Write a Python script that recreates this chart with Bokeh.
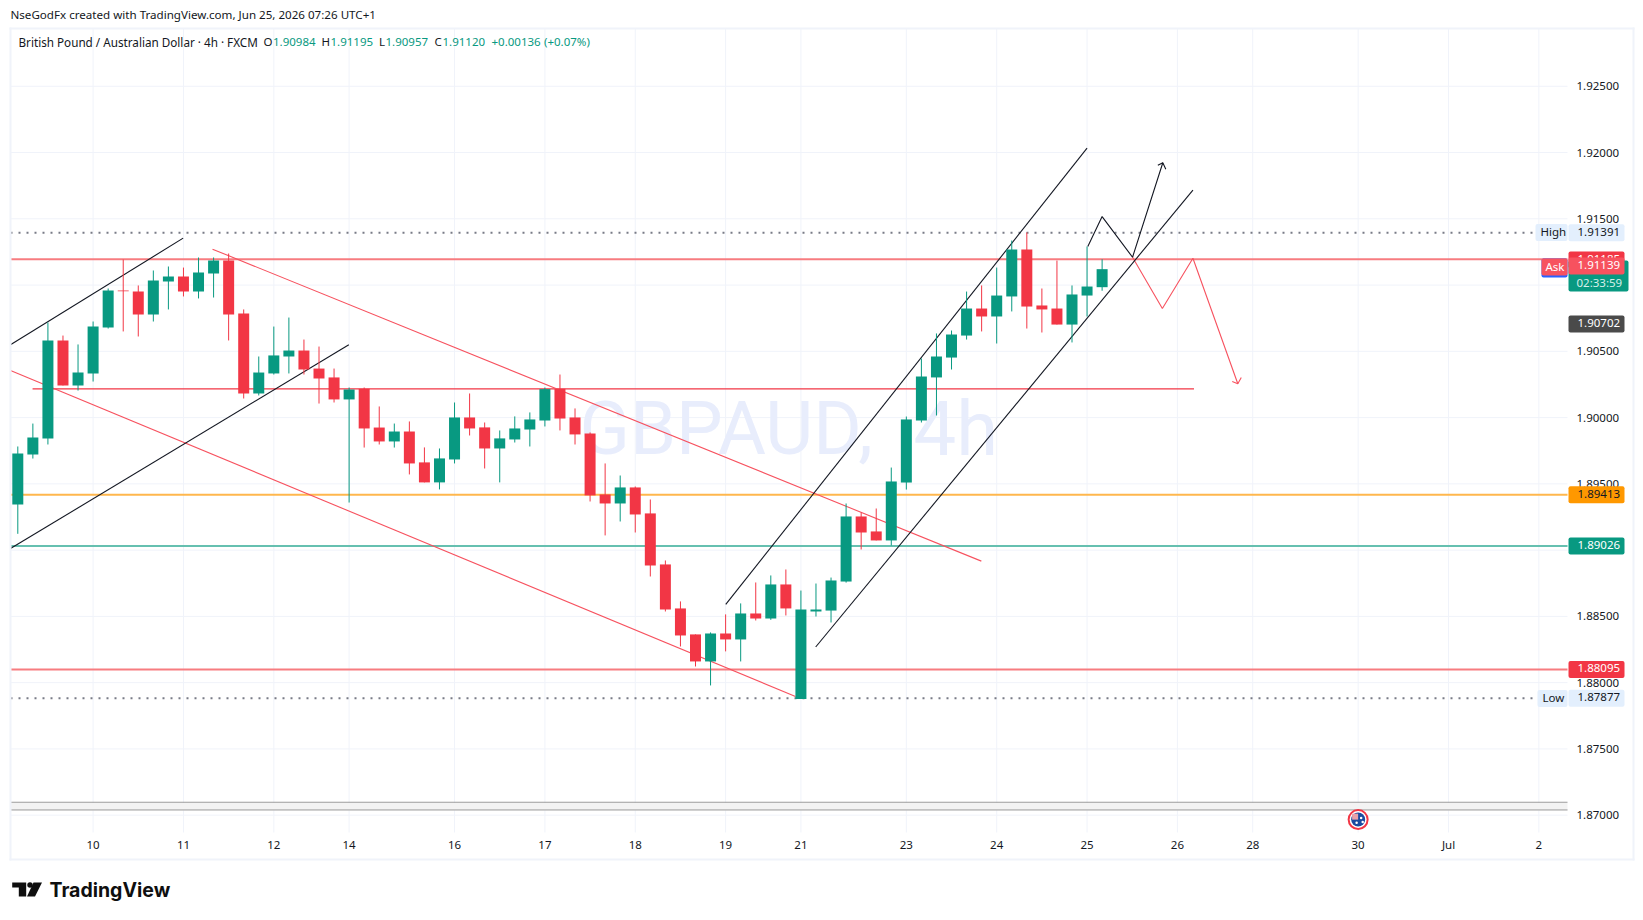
from bokeh.plotting import figure
from bokeh.embed import file_html
from bokeh.resources import INLINE
from bokeh.core.properties import value
from bokeh.models import LinearAxis, FixedTicker, ColumnDataSource, Range1d

UP = "#089981"
DOWN = "#f23645"
INK = "#131722"
FONT = "Noto Sans"
GRID = "#f0f3fa"

opens = [1.89344,1.89722,1.89842,1.90582,1.90242,1.90333,1.90680,1.90959,1.90951,1.90778,1.91027,1.91065,1.90951,1.91087,1.91185,1.90785,1.90182,1.90333,1.90461,1.90506,1.90370,1.90303,1.90137,1.90217,1.89925,1.89820,
1.89895,1.89662,1.89511,1.89684,1.90001,1.89926,1.89767,1.89835,1.89910,1.89978,1.90217,1.90001,1.89880,1.89420,1.89352,1.89473,1.89277,1.88892,1.88560,1.88364,1.88160,1.88371,1.88326,1.88522,1.88484,1.88741,
1.87877,1.88537,1.88544,1.88763,1.89254,1.89141,1.89073,1.89510,1.89978,1.90303,1.90453,1.90619,1.90823,1.90763,1.90914,1.91268,1.90846,1.90823,1.90702,1.90921,1.90984]
highs = [1.89782,1.89955,1.90718,1.90619,1.90552,1.90725,1.90974,1.91193,1.90997,1.91110,1.91140,1.91132,1.91208,1.91208,1.91238,1.90816,1.90461,1.90687,1.90755,1.90589,1.90536,1.90370,1.90227,1.90227,1.90084,1.89955,
1.89971,1.89775,1.89767,1.90114,1.90182,1.89963,1.89903,1.90009,1.90039,1.90227,1.90325,1.90069,1.89888,1.89654,1.89563,1.89480,1.89382,1.88922,1.88613,1.88364,1.88379,1.88515,1.88598,1.88756,1.88809,1.88854,
1.88695,1.88748,1.88793,1.89352,1.89284,1.89314,1.89623,1.90008,1.90446,1.90635,1.90657,1.90951,1.90997,1.91132,1.91336,1.91397,1.90974,1.91185,1.90997,1.91291,1.91195]
lows = [1.89123,1.89691,1.89797,1.90242,1.90204,1.90272,1.90672,1.90650,1.90612,1.90725,1.90816,1.90914,1.90899,1.90906,1.90582,1.90144,1.90167,1.90325,1.90333,1.90325,1.90106,1.90114,1.89359,1.89774,1.89797,1.89774,
1.89571,1.89511,1.89458,1.89654,1.89865,1.89616,1.89511,1.89812,1.89782,1.89933,1.89903,1.89797,1.89367,1.89111,1.89216,1.89133,1.88801,1.88537,1.88273,1.88122,1.87979,1.88236,1.88160,1.88469,1.88474,1.88507,
1.87877,1.88499,1.88454,1.88755,1.89005,1.89073,1.89035,1.89457,1.89963,1.90016,1.90363,1.90589,1.90650,1.90559,1.90801,1.90672,1.90642,1.90702,1.90567,1.90763,1.90957]
closes = [1.89729,1.89850,1.90582,1.90242,1.90340,1.90687,1.90959,1.90954,1.90778,1.91034,1.91065,1.90951,1.91095,1.91185,1.90778,1.90182,1.90340,1.90469,1.90506,1.90363,1.90295,1.90137,1.90212,1.89918,1.89820,1.89895,
1.89654,1.89511,1.89692,1.90001,1.89918,1.89767,1.89843,1.89918,1.89986,1.90215,1.89993,1.89873,1.89413,1.89352,1.89473,1.89269,1.88884,1.88552,1.88356,1.88160,1.88371,1.88326,1.88522,1.88484,1.88741,1.88560,
1.88552,1.88552,1.88771,1.89254,1.89133,1.89073,1.89518,1.89986,1.90310,1.90461,1.90627,1.90823,1.90763,1.90921,1.91268,1.90838,1.90816,1.90702,1.90929,1.90989,1.91120]

price_ticks = [1.87,1.875,1.88,1.885,1.89,1.895,1.90,1.905,1.91,1.915,1.92,1.925]
day_ticks = [5,11,17,22,29,35,41,47,52,59,65,71,77,82,89,95,101]
day_labels = ["10","11","12","14","16","17","18","19","21","23","24","25","26","28","30","Jul","2"]

high_price = 1.91391
low_price = 1.87877
red_top_level = 1.91190
red_mid_level = 1.90217
orange_level = 1.89413
teal_level = 1.89026
red_low_level = 1.88095
band_top = 1.87093
band_bottom = 1.87035
prev_close = 1.91185
ask_price = 1.91139
alert_price = 1.90702

black_lines = [
    ([-0.485, 10.98], [1.90549, 1.91354]),
    ([-0.485, 21.98], [1.89012, 1.90549]),
    ([47.01, 71.0], [1.88590, 1.92033]),
    ([52.98, 78.03], [1.88269, 1.91717]),
    ([71.05, 72.0, 74.02, 76.03], [1.91291, 1.91517, 1.91210, 1.91923]),
    ([75.70, 76.03, 76.23], [1.91904, 1.91923, 1.91874]),
]
red_lines = [
    ([12.93, 63.98], [1.91271, 1.88917]),
    ([-0.485, 51.64], [1.90355, 1.87896]),
    ([74.02, 76.0, 78.03, 81.01], [1.91210, 1.90823, 1.91202, 1.90255]),
    ([80.64, 81.01, 81.24], [1.90272, 1.90255, 1.90302]),
]

# pixel geometry of the reference: the plot frame fills the whole canvas
FIG_W, FIG_H = 1640, 912
PANE_L, PANE_R, PANE_T, PANE_B = 10, 1567, 28, 832
PX_PER_BAR = 15.06
PX_PER_UNIT = 13253.0
LEVEL_SHIFT = 0.6 / PX_PER_UNIT


def X(px):
    return (px - 17.3) / PX_PER_BAR


def Y(py):
    return 1.915 + (218.3 - py) / PX_PER_UNIT


p = figure(width=FIG_W, height=FIG_H, output_backend="svg", toolbar_location=None,
           x_range=Range1d(X(0), X(FIG_W)), y_range=Range1d(Y(FIG_H), Y(0)),
           x_axis_location=None, y_axis_location=None,
           min_border=0, min_border_left=0, min_border_right=0, min_border_top=0, min_border_bottom=0,
           background_fill_color="white", border_fill_color="white", outline_line_color=None)
p.grid.visible = False

yaxis = LinearAxis(fixed_location=X(PANE_R), ticker=FixedTicker(ticks=price_ticks),
                   major_label_overrides={t: f"{t:.5f}" for t in price_ticks})
xaxis = LinearAxis(fixed_location=Y(PANE_B), ticker=FixedTicker(ticks=day_ticks),
                   major_label_overrides=dict(zip(day_ticks, day_labels)))
for ax in (xaxis, yaxis):
    ax.axis_line_color = None
    ax.major_tick_line_color = None
    ax.minor_tick_line_color = None
    ax.major_label_text_color = INK
    ax.major_label_text_font = FONT
    ax.major_label_text_font_size = "11.5px"
    ax.level = "underlay"
yaxis.major_label_standoff = 3
xaxis.major_label_standoff = -2
p.add_layout(yaxis, "right")
p.add_layout(xaxis, "below")


def text(px, py, s, color=INK, size=11.5, font=FONT, style="normal", baseline="middle"):
    p.text(x=[X(px)], y=[Y(py - 1)], text=[s], text_color=color, text_font=value(font),
           text_font_size=f"{size}px", text_align="left", text_baseline=baseline, text_font_style=style)


def box(l, r, t, b, color, radius=0):
    p.quad(left=[X(l)], right=[X(r)], top=[Y(t)], bottom=[Y(b)], fill_color=color, line_color=None, border_radius=radius)


def hline(price, color, width, x_end=PANE_R, dash="solid"):
    y = price + LEVEL_SHIFT
    p.line([X(PANE_L), X(x_end)], [y, y], line_color=color, line_width=width, line_dash=dash)


# grid
p.segment(x0=[X(PANE_L)] * len(price_ticks), x1=[X(PANE_R)] * len(price_ticks), y0=price_ticks, y1=price_ticks,
          line_color=GRID, line_width=1)
p.segment(x0=day_ticks, x1=day_ticks, y0=[Y(PANE_T)] * len(day_ticks), y1=[Y(PANE_B)] * len(day_ticks),
          line_color=GRID, line_width=1)

# watermark
text(579, 429, "GBPAUD,", color="#e8edfc", size=74, font="Roboto")
text(913, 429, "4h", color="#e8edfc", size=76, font="Roboto")

# band and level lines
p.quad(left=[X(PANE_L)], right=[X(PANE_R)], top=[band_top], bottom=[band_bottom], fill_color="#f3f3f3", line_color=None)
hline(band_top, "#9b9b9b", 1)
hline(band_bottom, "#9b9b9b", 1)
hline(red_top_level, "#f77c80", 2)
hline(orange_level, "#ffb74d", 2)
hline(teal_level, "#66c0b0", 2)
hline(red_low_level, "#f77c80", 2)
p.line([0.98, 78.1], [red_mid_level, red_mid_level], line_color=DOWN, line_width=1.1)
hline(high_price, "#787b86", 2, x_end=1533, dash="2 6")
hline(low_price, "#787b86", 2, x_end=1532, dash="2 6")

for xs, ys in red_lines:
    p.line(xs, ys, line_color="#f7525f", line_width=1.1)
for xs, ys in black_lines:
    p.line(xs, ys, line_color="#131722", line_width=1.1)

# candles
idx = list(range(len(opens)))
colors = [UP if c >= o else DOWN for o, c in zip(opens, closes)]
src = ColumnDataSource(dict(x=idx, o=opens, h=highs, l=lows, c=closes, color=colors))
p.segment("x", "h", "x", "l", source=src, line_color="color", line_width=1)
p.vbar("x", 0.73, "o", "c", source=src, fill_color="color", line_color=None)

# economic event marker
flag_x, flag_y = 89, 1.86967
p.scatter([flag_x], [flag_y], size=19, fill_color="white", line_color=DOWN, line_width=2)
p.scatter([flag_x], [flag_y], size=14, fill_color="#1a4aa0", line_color=None)
p.scatter([flag_x - 0.2], [flag_y + 0.00022], size=6, marker="square", fill_color="#e9a0a8", line_color=None)
p.scatter([flag_x - 0.1, flag_x + 0.2, flag_x + 0.3], [flag_y - 0.00025, flag_y + 0.00012, flag_y - 0.00018],
          size=2.5, fill_color="white", line_color=None)

# outer frame
for l, r, t, b in [(9, 11, PANE_T - 1, 860), (1632, 1634, PANE_T - 1, 860),
                   (9, 1634, PANE_T - 1, PANE_T + 1), (9, 1634, 858, 860)]:
    box(l, r, t, b, GRID)

# header and legend
text(10, 15, "NseGodFx created with TradingView.com, Jun 25, 2026 07:26 UTC+1", size=11.6)
text(18, 42, "British Pound / Australian Dollar · 4h · FXCM", size=11.7)
for px, s, c in [(263, "O", INK), (272.5, "1.90984", UP), (321, "H", INK), (330, "1.91195", UP),
                 (378.5, "L", INK), (385, "1.90957", UP), (434, "C", INK), (442, "1.91120", UP),
                 (491, "+0.00136", UP), (543.5, "(+0.07%)", UP)]:
    text(px, 42, s, color=c)

# price tags
TL, TR = 1568, 1624


def tag(price, color, txt="white", right=TR):
    py = 218.3 + (1.915 - price) * PX_PER_UNIT - 0.6
    box(TL, right, py - 8.5, py + 8.5, color, radius=2)
    text(1577, py, f"{price:.5f}", color=txt)


box(1535, 1567, 223.5, 240.5, "#e3effd", radius=2)
text(1540, 232, "High")
tag(high_price, "#e3effd", INK)

tag(prev_close, DOWN)
box(TL, 1628, 260, 291, UP, radius=2)
text(1576, 283, "02:33:59", color="#d5efe9")
box(1541, 1567, 258, 277, "#2962ff", radius=2)
box(1541, 1567, 258, 275, "#f7525f", radius=2)
text(1545, 266.5, "Ask", color="white")
tag(ask_price, "#f7525f")

tag(alert_price, "#4a4a4a")
tag(orange_level, "#ff9800", INK)
tag(teal_level, UP)
tag(red_low_level, DOWN)
box(1537, 1567, 689.5, 706.5, "#e3effd", radius=2)
text(1542, 698, "Low")
tag(low_price, "#e3effd", INK)

# TradingView logo
LOGO = "#0f0f0f"
p.patch([X(v) for v in (11.7, 25.7, 25.7, 18.3, 18.3, 11.7)], [Y(v) for v in (882, 882, 896, 896, 887, 887)],
        fill_color=LOGO, line_color=None)
p.patch([X(v) for v in (33, 41.5, 34.5, 26.5)], [Y(v) for v in (882, 882, 896, 896)], fill_color=LOGO, line_color=None)
p.scatter([X(29.5)], [Y(884.5)], size=5.5, fill_color=LOGO, line_color=None)
text(49, 890, "TradingView", color=LOGO, size=19.5, font="Inter", style="bold")

open("out.html", "w").write(file_html(p, INLINE))
